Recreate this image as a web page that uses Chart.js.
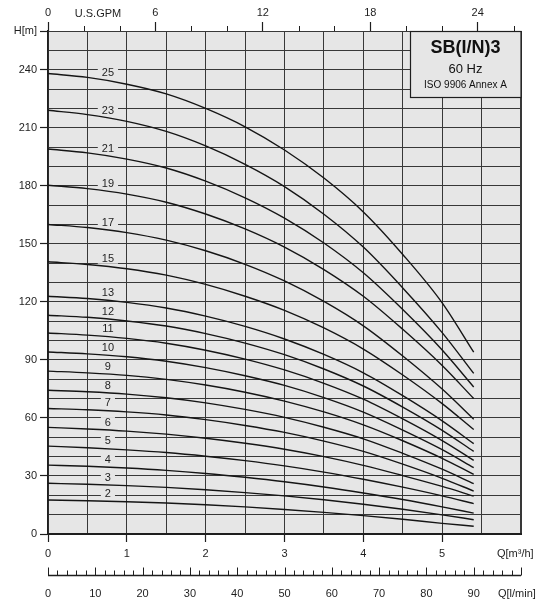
<!DOCTYPE html>
<html>
<head>
<meta charset="utf-8">
<title>SB(I/N)3 60 Hz</title>
<script src="https://cdn.jsdelivr.net/npm/chart.js@4.4.1/dist/chart.umd.min.js"></script>
<style>
  html, body { margin: 0; padding: 0; background: #fff; }
  #wrap { width: 549px; height: 600px; position: relative; }
</style>
</head>
<body>
<div id="wrap"><canvas id="pumpChart"></canvas></div>
<script>
const qFlow = [0, 0.5, 1, 1.5, 2, 2.5, 3, 3.5, 4, 4.5, 5, 5.4];

// head in m for each stage count
const h25 = [238, 236, 232.5, 227.5, 220, 210.5, 198.5, 184, 166.5, 144.5, 119.5, 94];
const h23 = [219, 216.8, 213.3, 208.1, 200.6, 191.1, 179.6, 165.3, 148.3, 127.2, 104.1, 83];
const h21 = [199, 197, 193.8, 189.2, 182.4, 173.8, 163.3, 150.4, 135, 116, 95.1, 76];
const h19 = [180.3, 178.5, 175.7, 171.5, 165.4, 157.7, 148.3, 136.7, 122.9, 105.8, 87.1, 70];
const h17 = [160, 158.4, 155.8, 151.9, 146.4, 139.4, 130.8, 120.2, 107.6, 92, 74.9, 59.3];
const h15 = [140.7, 139.3, 137.1, 133.8, 129, 122.9, 115.6, 106.5, 95.6, 82.2, 67.4, 54];
const h13 = [122.9, 121.7, 119.7, 116.8, 112.6, 107.3, 100.8, 92.8, 83.3, 71.5, 58.5, 46.7];
const h12 = [113.1, 112, 110.1, 107.5, 103.6, 98.7, 92.7, 85.3, 76.5, 65.6, 53.6, 42.7];
const h11 = [103.9, 102.8, 101.1, 98.6, 95, 90.4, 84.8, 77.9, 69.7, 59.5, 48.3, 38.1];
const h10 = [94.1, 93.1, 91.6, 89.3, 86, 81.8, 76.8, 70.5, 63, 53.7, 43.6, 34.3];
const h9 = [84.2, 83.3, 82, 79.9, 77, 73.3, 68.7, 63.1, 56.4, 48.2, 39.1, 30.8];
const h8 = [74.3, 73.5, 72.3, 70.4, 67.8, 64.4, 60.3, 55.2, 49.2, 41.7, 33.5, 26];
const h7 = [64.9, 64.2, 63.1, 61.5, 59.1, 56.1, 52.5, 48, 42.7, 36.1, 28.8, 22.2];
const h6 = [55.1, 54.3, 53.2, 51.6, 49.5, 46.9, 43.8, 40, 35.5, 30.2, 24.6, 19.6];
const h5 = [45.4, 44.6, 43.5, 42.1, 40.2, 37.9, 35.2, 32, 28.3, 24.2, 19.7, 15.7];
const h4 = [35.6, 35, 34.1, 32.9, 31.3, 29.3, 27, 24.3, 21.2, 17.8, 14, 10.8];
const h3 = [26.2, 25.7, 25, 24.1, 22.9, 21.4, 19.7, 17.7, 15.4, 12.8, 9.9, 7.4];
const h2 = [17.6, 17.2, 16.7, 16, 15.1, 14, 12.7, 11.2, 9.5, 7.6, 5.5, 4];

const stages = ["25", "23", "21", "19", "17", "15", "13", "12", "11", "10", "9", "8", "7", "6", "5", "4", "3", "2"];
const heads = [h25, h23, h21, h19, h17, h15, h13, h12, h11, h10, h9, h8, h7, h6, h5, h4, h3, h2];

// tick labels
const hTicks = [0, 30, 60, 90, 120, 150, 180, 210, 240];
const qTicks = [0, 1, 2, 3, 4, 5];
const gpmTicks = [0, 6, 12, 18, 24];
const lminTicks = [0, 10, 20, 30, 40, 50, 60, 70, 80, 90];

const GPM_PER_M3H = 4.4029;
const LMIN_PER_M3H = 1000 / 60;
const Q_MAX = 6;
const H_MAX = 260;

const FONT = "'Liberation Sans', Arial, sans-serif";
const plotBg = "#e6e6e6";
const gridColor = "#383838";
const ink = "#1e1e1e";
const labelQ = 0.76;

const tickFont = { family: FONT, size: 11 };

const plotDecor = {
  id: "plotDecor",
  beforeDraw(chart) {
    const { ctx, chartArea: a } = chart;
    ctx.save();
    ctx.fillStyle = "#fff";
    ctx.fillRect(0, 0, chart.width, chart.height);
    ctx.fillStyle = plotBg;
    ctx.fillRect(a.left, a.top, a.right - a.left, a.bottom - a.top);
    ctx.restore();
  },
  afterDatasetsDraw(chart) {
    const { ctx, chartArea: a, scales } = chart;
    ctx.save();
    ctx.font = "11px " + FONT;
    ctx.textAlign = "center";
    ctx.textBaseline = "middle";

    // stage numbers just above each curve
    const lx = scales.x.getPixelForValue(labelQ);
    const t = (labelQ - qFlow[1]) / (qFlow[2] - qFlow[1]);
    stages.forEach((name, i) => {
      const pts = chart.getDatasetMeta(i).data;
      const ly = pts[1].y + t * (pts[2].y - pts[1].y) - 8;
      const w = ctx.measureText(name).width + 8;
      ctx.fillStyle = plotBg;
      ctx.fillRect(lx - w / 2, ly - 5, w, 10);
      ctx.fillStyle = ink;
      ctx.fillText(name, lx, ly + 0.5);
    });

    // title box, top right corner
    const bx = 410, by = a.top, bw = a.right - 410, bh = 66;
    ctx.fillStyle = plotBg;
    ctx.fillRect(bx, by, bw, bh);
    ctx.strokeStyle = ink;
    ctx.lineWidth = 1.2;
    ctx.strokeRect(bx + 0.5, by + 0.5, bw - 0.5, bh);
    ctx.fillStyle = "#111";
    ctx.font = "bold 18px " + FONT;
    ctx.fillText("SB(I/N)3", bx + bw / 2, by + 17.5);
    ctx.font = "13px " + FONT;
    ctx.fillText("60 Hz", bx + bw / 2, by + 38);
    ctx.font = "10px " + FONT;
    ctx.fillText("ISO 9906 Annex A", bx + bw / 2, by + 54);

    // short ticks on the U.S.GPM axis
    ctx.strokeStyle = ink;
    ctx.lineWidth = 1;
    for (let g = 2; g <= 26; g += 2) {
      if (gpmTicks.includes(g)) continue;
      const px = Math.round(scales.xTop.getPixelForValue(g)) + 0.5;
      ctx.beginPath();
      ctx.moveTo(px, a.top);
      ctx.lineTo(px, a.top - 5);
      ctx.stroke();
    }

    // separate l/min axis line with ticks pointing up
    const ly0 = 575.5;
    ctx.lineWidth = 1.5;
    ctx.beginPath();
    ctx.moveTo(a.left, ly0);
    ctx.lineTo(a.right, ly0);
    ctx.stroke();
    ctx.lineWidth = 1;
    for (let l = 0; l <= 100; l += 2) {
      const px = Math.round(scales.xL.getPixelForValue(l)) + 0.5;
      const len = l % 10 === 0 ? 8 : 5;
      ctx.beginPath();
      ctx.moveTo(px, ly0);
      ctx.lineTo(px, ly0 - len);
      ctx.stroke();
    }

    // unit captions
    ctx.fillStyle = ink;
    ctx.font = "11px " + FONT;
    ctx.fillText("U.S.GPM", 98, 13.5);
    ctx.textAlign = "left";
    ctx.fillText("Q[m³/h]", 497, 554);
    ctx.fillText("Q[l/min]", 498, 594);
    ctx.restore();
  }
};

const datasets = heads.map((h, i) => ({
  label: stages[i],
  data: qFlow.map((q, j) => ({ x: q, y: h[j] })),
  borderColor: "#151515",
  borderWidth: 1.4,
  pointRadius: 0,
  fill: false,
  cubicInterpolationMode: "monotone"
}));

const tickOn = (list, extra) => ctx => {
  const v = ctx.tick ? ctx.tick.value : null;
  return list.includes(v) || v === extra ? ink : "rgba(0,0,0,0)";
};

new Chart(document.getElementById("pumpChart"), {
  type: "line",
  data: { datasets },
  options: {
    responsive: true,
    maintainAspectRatio: false,
    animation: false,
    layout: { padding: { left: 4, right: 28, top: 0, bottom: 1 } },
    plugins: {
      legend: { display: false },
      tooltip: { enabled: false }
    },
    scales: {
      x: {
        type: "linear",
        position: "bottom",
        min: 0,
        max: Q_MAX,
        afterFit: s => { s.height = 26; },
        ticks: {
          stepSize: 0.5,
          autoSkip: false,
          maxRotation: 0,
          padding: 5,
          color: ink,
          font: tickFont,
          callback: v => (qTicks.includes(v) ? String(v) : "")
        },
        grid: {
          color: gridColor,
          lineWidth: ctx => (ctx.tick && ctx.tick.value === Q_MAX ? 2 : 1),
          tickLength: 8,
          tickWidth: 1.2,
          tickColor: tickOn(qTicks)
        },
        border: { color: ink, width: 2 }
      },
      xL: {
        type: "linear",
        position: "bottom",
        min: 0,
        max: 100,
        afterFit: s => { s.height = 39; },
        ticks: {
          stepSize: 10,
          includeBounds: false,
          autoSkip: false,
          maxRotation: 0,
          padding: 27,
          color: ink,
          font: tickFont,
          callback: v => (lminTicks.includes(v) ? String(v) : "")
        },
        grid: { display: false, drawTicks: false },
        border: { display: false }
      },
      xTop: {
        type: "linear",
        position: "top",
        min: 0,
        max: Q_MAX * GPM_PER_M3H,
        afterFit: s => { s.height = 31; },
        ticks: {
          stepSize: 2,
          includeBounds: false,
          autoSkip: false,
          maxRotation: 0,
          padding: 2,
          color: ink,
          font: tickFont,
          callback: v => (gpmTicks.includes(v) ? String(v) : "")
        },
        grid: {
          drawOnChartArea: false,
          tickLength: 9,
          tickWidth: 1.2,
          tickColor: tickOn(gpmTicks)
        },
        border: { display: false }
      },
      y: {
        type: "linear",
        min: 0,
        max: H_MAX,
        afterFit: s => { s.width = 44; },
        ticks: {
          stepSize: 10,
          autoSkip: false,
          padding: 3,
          color: ink,
          font: tickFont,
          callback: v => (v === H_MAX ? "H[m]" : hTicks.includes(v) ? String(v) : "")
        },
        grid: {
          color: gridColor,
          lineWidth: 1,
          tickLength: 8,
          tickWidth: 1.2,
          tickColor: tickOn(hTicks, H_MAX)
        },
        border: { color: ink, width: 1.5 }
      }
    }
  },
  plugins: [plotDecor]
});
</script>
</body>
</html>
